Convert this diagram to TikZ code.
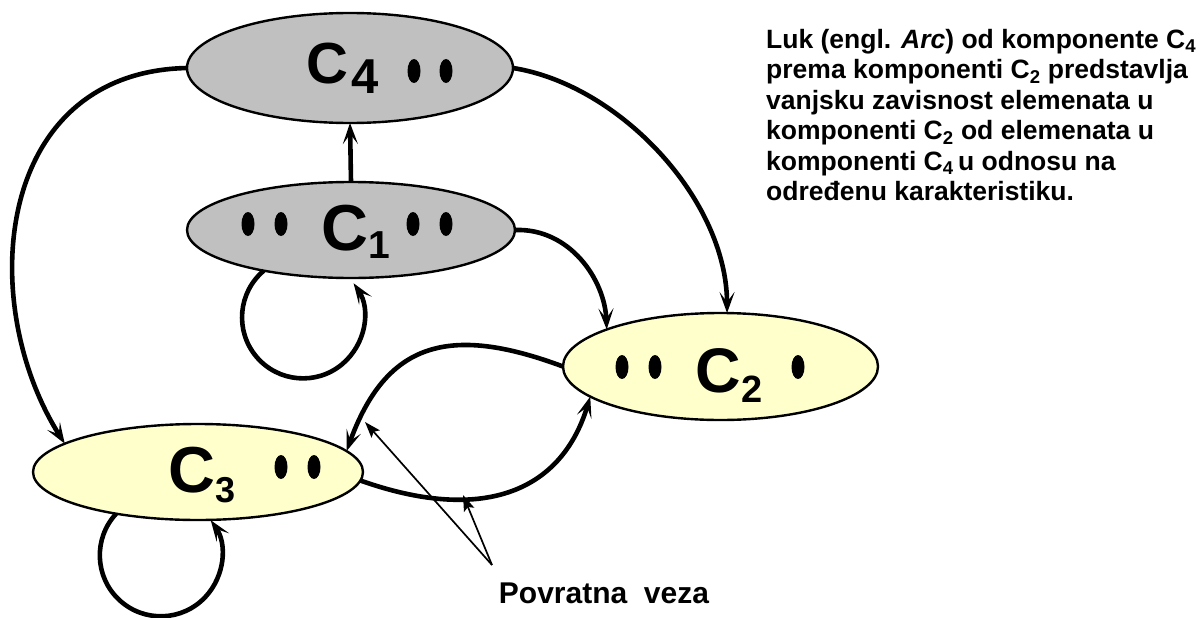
\documentclass[tikz,border=0pt]{standalone}
\usepackage{fontspec}
\setmainfont{Liberation Sans}
\usetikzlibrary{shapes.geometric,arrows.meta}
\definecolor{compgray}{HTML}{C0C0C0}
\definecolor{compyel}{HTML}{FFFFCC}
\begin{document}
\begin{tikzpicture}[x=1pt,y=-1pt,
  comp/.style={ellipse, draw=black, line width=2.4pt, inner sep=0pt, outer sep=0pt},
  conn/.style={line width=4.6pt, -{Stealth[length=21pt,width=15pt,inset=10pt]}},
  thinarr/.style={line width=1.7pt, -{Stealth[length=16pt,width=11pt,inset=3pt]}},
  lbl/.style={anchor=base west, inner sep=0pt, outer sep=0pt},
  dotmark/.style={fill=black}]
\useasboundingbox (0,0) rectangle (1204,618);

% components
\node[comp, fill=compgray, minimum width=326pt, minimum height=110pt] (c4) at (350,68) {};
\node[comp, fill=compgray, minimum width=328pt, minimum height=96pt] (c1) at (351,230) {};
\node[comp, fill=compyel, minimum width=315pt, minimum height=107pt] (c2) at (720.5,366.5) {};
\node[comp, fill=compyel, minimum width=330pt, minimum height=96pt] (c3) at (198,472) {};

% labels
\node[lbl, font=\fontsize{58}{58}\selectfont\bfseries] (l4) at (306,83) {C\kern4pt\raisebox{-10pt}{\fontsize{49}{49}\selectfont 4}};
\node[lbl, font=\fontsize{65}{65}\selectfont\bfseries] (l1) at (321,250) {C\kern1pt\raisebox{-8pt}{\fontsize{39}{39}\selectfont 1}};
\node[lbl, font=\fontsize{63}{63}\selectfont\bfseries] (l2) at (695,392) {C\kern1pt\raisebox{-10pt}{\fontsize{38}{38}\selectfont 2}};
\node[lbl, font=\fontsize{65}{65}\selectfont\bfseries] (l3) at (168,492) {C\kern1pt\raisebox{-10pt}{\fontsize{36}{36}\selectfont 3}};

% dots
\foreach \p in {(414,71),(446,71),(248,224),(281,224),(413,224),(446,224),(622,367),(655,367),(798,367),(281,467),(314,467)}
  \fill[dotmark] \p ellipse[x radius=6.5, y radius=12];

% connectors
\draw[conn] (c1.north) -- (c4.south);
\draw[conn] (c4.west) .. controls (-5,72) and (-25,302) .. (c3.168);
\draw[conn] (c4.east) .. controls (620,85) and (727,200) .. (c2.83);
\draw[conn] (c1.east) .. controls (570,228) and (605,280) .. (c2.162);
\draw[conn] (c1.205) arc[start angle=230, end angle=-34, radius=61];
\draw[conn] (c3.207) arc[start angle=223, end angle=-35, radius=61];
\draw[conn] (c2.west) .. controls (449,324) and (386,342) .. (c3.8);
\draw[conn] (c3.-3) .. controls (480,523) and (561,494) .. (c2.193);

% feedback annotation
\node[anchor=base, inner sep=0pt, font=\fontsize{30}{30}\selectfont\bfseries] (fb) at (604,603) {Povratna\ \ veza};
\coordinate (apex) at (492,565);
\coordinate (fbtop) at (365,422);
\coordinate (fbbot) at (463,495);
\draw[thinarr] (apex) -- (fbtop);
\draw[thinarr] (apex) -- (fbbot);

% note
\node[anchor=north west, align=left, inner sep=0pt, font=\fontsize{26.5}{30.5}\selectfont\bfseries] (note) at (766,29)
 {Luk (engl. \textit{Arc}) od komponente C\textsubscript{4}\\
  prema komponenti C\textsubscript{2} predstavlja\\
  vanjsku zavisnost elemenata u\\
  komponenti C\textsubscript{2} od elemenata u\\
  komponenti C\textsubscript{4}\,u odnosu na\\
  određenu karakteristiku.};
\end{tikzpicture}
\end{document}
